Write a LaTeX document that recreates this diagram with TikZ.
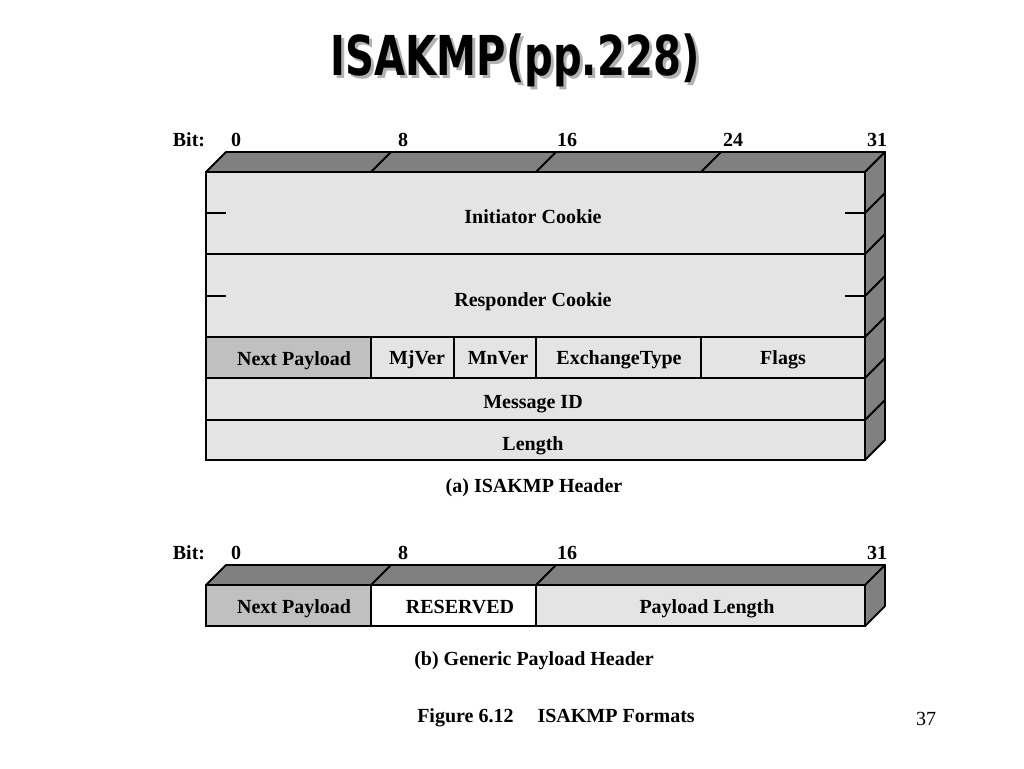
\documentclass[tikz,border=0pt]{standalone}
\usepackage{graphicx}
\usepackage{fontspec}
\setmainfont{Liberation Serif}
\newfontfamily\titlefont{DejaVu Sans}
\definecolor{faceLight}{RGB}{228,228,228}
\definecolor{faceDark}{RGB}{128,128,128}
\definecolor{faceMid}{RGB}{192,192,192}
\newcommand{\titletext}{\scalebox{0.73}[1]{ISAKMP(pp.228)}}

\begin{document}
\begin{tikzpicture}[x=1pt, y=-1pt,
front/.style={draw=black, line width=1.8pt, fill=faceLight},
darkface/.style={draw=black, line width=1.8pt, fill=faceDark, line join=round},
edgeline/.style={draw=black, line width=1.8pt},
field/.style={font=\fontsize{20}{24}\selectfont\bfseries, anchor=base, inner sep=0pt},
bitlabel/.style={font=\fontsize{20}{24}\selectfont\bfseries, anchor=base, inner sep=0pt},
caption/.style={font=\fontsize{20}{24}\selectfont\bfseries, anchor=base, inner sep=0pt},
]
\useasboundingbox[fill=white] (0,0) rectangle (1024,768);

% title, with its shadow
\node[font=\titlefont\bfseries\fontsize{55}{60}\selectfont] (title) at (515,62)
	{\rlap{\hspace{3pt}\raisebox{-3pt}{\color{gray!60}\titletext}}\titletext};

% (a) ISAKMP Header
\node[bitlabel] (bitA) at (189,146) {Bit:};
\node[bitlabel] (bitA0) at (236,146) {0};
\node[bitlabel] (bitA8) at (403,146) {8};
\node[bitlabel] (bitA16) at (567,146) {16};
\node[bitlabel] (bitA24) at (733,146) {24};
\node[bitlabel] (bitA31) at (877,146) {31};

\path[darkface] (206,172) -- (226,152) -- (885,152) -- (865,172) -- cycle;
\path[darkface] (865,172) -- (885,152) -- (885,440) -- (865,460) -- cycle;
\foreach \xx in {371,536,701}
	\draw[edgeline] (\xx,172) -- ++(20,-20);
\foreach \yy in {213,254,296,337,378,420}
	\draw[edgeline] (865,\yy) -- ++(20,-20);

\path[front] (206,172) rectangle (865,254);
\path[front] (206,254) rectangle (865,337);
\path[front, fill=faceMid] (206,337) rectangle (371,378);
\path[front] (371,337) rectangle (454,378);
\path[front] (454,337) rectangle (536,378);
\path[front] (536,337) rectangle (701,378);
\path[front] (701,337) rectangle (865,378);
\path[front] (206,378) rectangle (865,420);
\path[front] (206,420) rectangle (865,460);
\foreach \yy in {213,296} {
	\draw[edgeline] (206,\yy) -- ++(20,0);
	\draw[edgeline] (865,\yy) -- ++(-20,0);
}

\node[field] (icookie) at (533,223) {Initiator Cookie};
\node[field] (rcookie) at (533,306) {Responder Cookie};
\node[field] (nextA) at (294,365) {Next Payload};
\node[field] (mjver) at (417,364) {MjVer};
\node[field] (mnver) at (498,364) {MnVer};
\node[field] (xtype) at (619,364) {ExchangeType};
\node[field] (flags) at (783,364) {Flags};
\node[field] (msgid) at (533,408) {Message ID};
\node[field] (length) at (533,450) {Length};
\node[caption] (capA) at (534,492) {(a) ISAKMP Header};

% (b) Generic Payload Header
\node[bitlabel] (bitB) at (189,559) {Bit:};
\node[bitlabel] (bitB0) at (236,559) {0};
\node[bitlabel] (bitB8) at (403,559) {8};
\node[bitlabel] (bitB16) at (567,559) {16};
\node[bitlabel] (bitB31) at (877,559) {31};

\path[darkface] (206,585) -- (226,565) -- (885,565) -- (865,585) -- cycle;
\path[darkface] (865,585) -- (885,565) -- (885,606) -- (865,626) -- cycle;
\foreach \xx in {371,536}
	\draw[edgeline] (\xx,585) -- ++(20,-20);
\path[front, fill=faceMid] (206,585) rectangle (371,626);
\path[front, fill=white] (371,585) rectangle (536,626);
\path[front] (536,585) rectangle (865,626);

\node[field] (nextB) at (294,613) {Next Payload};
\node[field] (reserved) at (460,613) {RESERVED};
\node[field] (plength) at (707,613) {Payload Length};
\node[caption] (capB) at (534,665) {(b) Generic Payload Header};

\node[caption] (figcap) at (556,722) {Figure 6.12\hspace{1.2em}ISAKMP Formats};
\node[anchor=base, inner sep=0pt, font=\fontsize{20}{24}\selectfont] (pagenum) at (926,725) {37};
\end{tikzpicture}
\end{document}
